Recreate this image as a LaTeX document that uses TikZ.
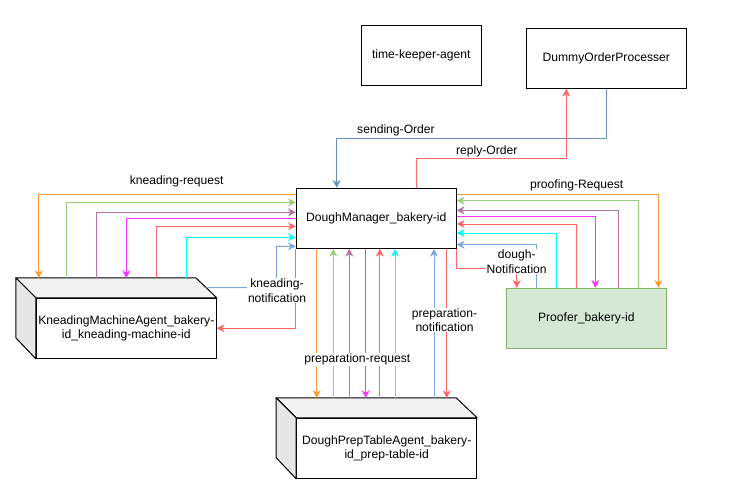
\documentclass[tikz,border=0pt]{standalone}
\usepackage{fontspec}
\setmainfont{Liberation Sans}
\usetikzlibrary{arrows.meta,calc}
\definecolor{cOr}{HTML}{FF9933}
\definecolor{cGr}{HTML}{97D077}
\definecolor{cPu}{HTML}{B5739D}
\definecolor{cMa}{HTML}{FF33FF}
\definecolor{cRe}{HTML}{FF6666}
\definecolor{cCy}{HTML}{00FFFF}
\definecolor{cBl}{HTML}{7EA6E0}
\definecolor{cBk}{HTML}{6C8EBF}
\definecolor{cTop}{HTML}{F2F2F2}
\definecolor{cSide}{HTML}{E6E6E6}
\definecolor{prFill}{HTML}{D5E8D4}
\definecolor{prLine}{HTML}{82B366}
\begin{document}
\begin{tikzpicture}[x=0.75pt,y=-0.75pt,
  font=\fontsize{9.1pt}{10.8pt}\selectfont,
  box/.style={draw=black, fill=white, line width=0.75pt, minimum width=120pt, minimum height=45pt, inner sep=0pt, align=center},
  front/.style={draw=black, fill=white, line width=0.75pt, minimum width=135pt, minimum height=45pt, inner sep=0pt, align=center},
  ghost/.style={minimum width=150pt, minimum height=60pt, inner sep=0pt},
  conn/.style={line width=0.75pt},
  arr/.style={-{Stealth[length=5.8pt,width=6pt,inset=1.8pt]}},
  lbl/.style={fill=white, inner sep=0.5pt, align=center}]
\useasboundingbox (0,0) rectangle (735,489);

% nodes
\node[box, minimum width=90pt] (tk) at (421.3,55.3) {time-keeper-agent};
\node[box] (dop) at (606.3,58.3) {DummyOrderProcesser};
\node[box] (dm) at (376.3,218.3) {DoughManager\_bakery-id};
\node[box, draw=prLine, fill=prFill] (pr) at (586.3,318.3) {Proofer\_bakery-id};

% kneading cube
\node[ghost] (kmbox) at (116.3,318.3) {};
\node[front] (km) at (126.3,328.3) {KneadingMachineAgent\_bakery-\\id\_kneading-machine-id};
\filldraw[fill=cTop, line width=0.75pt, line join=round] (km.north west) -- ++(-20,-20) -- ++(180,0) -- (km.north east) -- cycle;
\filldraw[fill=cSide, line width=0.75pt, line join=round] (km.north west) -- ++(-20,-20) -- ++(0,60) -- (km.south west) -- cycle;

% prep table cube
\node[ghost] (ptbox) at (376.7,438.3) {};
\node[front] (pt) at (386.7,448.3) {DoughPrepTableAgent\_bakery-\\id\_prep-table-id};
\filldraw[fill=cTop, line width=0.75pt, line join=round] (pt.north west) -- ++(-20,-20) -- ++(180,0) -- (pt.north east) -- cycle;
\filldraw[fill=cSide, line width=0.75pt, line join=round] (pt.north west) -- ++(-20,-20) -- ++(0,60) -- (pt.south west) -- cycle;

% top connectors
\draw[conn,cBk,arr] (dop.south -| 606.3,0) -- (606.3,138.3) -| (dm.north -| 336.7,0);
\draw[conn,cRe,arr] (dm.north -| 416.3,0) -- (416.3,158.3) -| (dop.south -| 566.3,0);

% left connectors
\draw[conn,cOr,arr] (dm.west |- 0,194.3) -| (kmbox.north -| 38.7,0);
\draw[conn,cGr,arr] (kmbox.north -| 66.7,0) |- (dm.west |- 0,202.3);
\draw[conn,cPu,arr] (kmbox.north -| 96.3,0) |- (dm.west |- 0,212.3);
\draw[conn,cMa,arr] (dm.west |- 0,218.7) -| (kmbox.north -| 126.3,0);
\draw[conn,cRe,arr] (kmbox.north -| 156.3,0) |- (dm.west |- 0,226.3);
\draw[conn,cCy,arr] (kmbox.north -| 186.3,0) |- (dm.west |- 0,237.3);
\draw[conn,cBl,arr] ($(kmbox.north east)+(-10.3,9.7)$) -- (276.7,287.7) |- (dm.west |- 0,246.3);
\draw[conn,cRe,arr] (dm.south west) |- (km.east);

% right connectors
\draw[conn,cOr,arr] (dm.east |- 0,194.3) -| (pr.north -| 658.3,0);
\draw[conn,cGr,arr] (pr.north -| 638.7,0) |- (dm.east |- 0,200.7);
\draw[conn,cPu,arr] (pr.north -| 618.7,0) |- (dm.east |- 0,210.3);
\draw[conn,cMa,arr] (dm.east |- 0,216.3) -| (pr.north -| 595.3,0);
\draw[conn,cRe,arr] (pr.north -| 576.3,0) |- (dm.east |- 0,224);
\draw[conn,cCy,arr] (pr.north -| 556.3,0) |- (dm.east |- 0,233);
\draw[conn,cBl,arr] (pr.north -| 536.7,0) |- (dm.east |- 0,244.7);
\draw[conn,cRe,arr] (dm.south east) -- ++(0,20) -| (pr.north -| 516.7,0);

% bottom connectors
\draw[conn,cOr,arr] (dm.south -| 316.7,0) -- (ptbox.north -| 316.7,0);
\draw[conn,cGr,arr] (ptbox.north -| 333.3,0) -- (dm.south -| 333.3,0);
\draw[conn,cPu,arr] (ptbox.north -| 349.3,0) -- (dm.south -| 349.3,0);
\draw[conn,cMa,arr] (dm.south -| 365.7,0) -- (ptbox.north -| 365.7,0);
\draw[conn,cRe,arr] (ptbox.north -| 379.8,0) -- (dm.south -| 379.8,0);
\draw[conn,cCy,arr] (ptbox.north -| 395,0) -- (dm.south -| 395,0);
\draw[conn,cBl,arr] (ptbox.north -| 434,0) -- (dm.south -| 434,0);
\draw[conn,cRe,arr] (dm.south -| 446.7,0) -- (ptbox.north -| 446.7,0);

% labels
\node[lbl] (l1) at (176.7,181) {kneading-request};
\node[lbl] (l2) at (576.7,185.7) {proofing-Request};
\node[lbl] (l3) at (396,130.7) {sending-Order};
\node[lbl] (l4) at (486.7,151) {reply-Order};
\node[lbl] (l5) at (277,290.7) {kneading-\\notification};
\node[lbl] (l6) at (516.7,261.5) {dough-\\Notification};
\node[lbl] (l7) at (357.3,359.3) {preparation-request};
\node[lbl] (l8) at (444.5,320) {preparation-\\notification};
\end{tikzpicture}
\end{document}
